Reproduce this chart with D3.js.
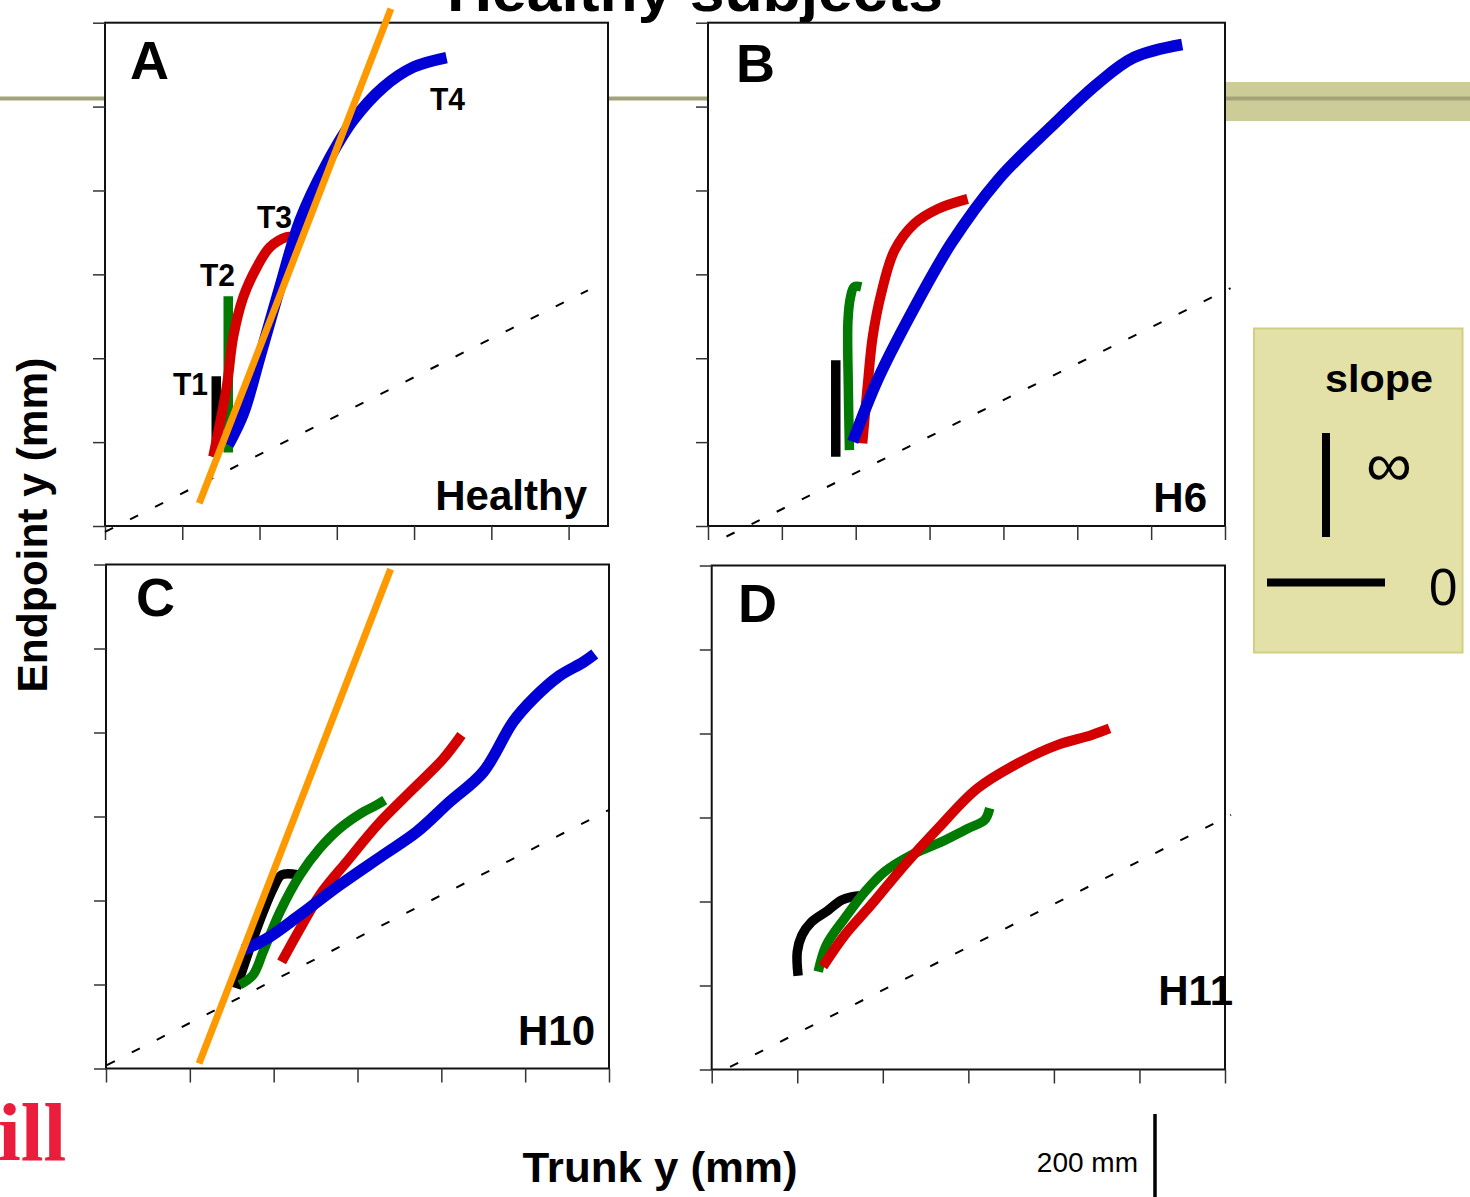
<!DOCTYPE html>
<html>
<head>
<meta charset="utf-8">
<script src="https://cdn.jsdelivr.net/npm/d3@7"></script>
<style>
  body { margin: 0; background: #fff; }
  svg { display: block; }
  text { font-family: "Liberation Sans", Arial, sans-serif; }
</style>
</head>
<body>
<div id="fig"></div>
<script>
// points are [trunk y, endpoint y] in mm
var yTicks = [0, 200, 400, 600, 800, 1000, 1200];
var xTicksA = [0, 200, 400, 600, 800, 1000, 1200];
var xTicksB = [0, 200, 400, 600, 800, 1000, 1200, 1400];

// A - healthy average
var aT1 = [[288,165],[288,357]];
var aT2 = [[319,175],[319,548]];
var aT3 = [[280,165],[315,332],[332,451],[358,546],[393,617],[427,665],[470,689],[483,689]];
var aT4 = [[319,193],[358,268],[401,403],[453,570],[505,729],[574,864],[642,967],[720,1046],[798,1094],[884,1117]];
var aFit = [[244,54],[740,1233]];
var aDiag = [[0,-14],[1250,562]];

// B - H6
var bT1 = [[346,165],[346,395]];
var bT2 = [[383,181],[380,330],[379,490],[386,546],[396,570],[415,570]];
var bT3 = [[418,197],[432,332],[446,451],[469,554],[505,657],[559,721],[622,756],[703,780]];
var bT4 = [[392,201],[459,348],[550,506],[658,673],[784,824],[928,951],[1054,1054],[1153,1117],[1284,1148]];
var bDiag = [[50,-25],[1415,567]];

// C - H10
var cT1 = [[311,191],[343,286],[375,373],[399,429],[419,461],[458,461]];
var cT2 = [[319,199],[351,223],[375,278],[415,373],[463,461],[510,524],[558,572],[614,611],[645,627],[665,639]];
var cT3 = [[419,254],[463,333],[510,413],[574,492],[653,586],[733,666],[804,737],[848,794]];
var cT4 = [[327,282],[383,309],[462,365],[558,437],[661,508],[741,563],[820,635],[900,706],[971,825],[1019,880],[1082,935],[1138,967],[1166,987]];
var cFit = [[222,12],[679,1189]];
var cDiag = [[2,8],[1199,615]];

// D - H11
var dT1 = [[202,223],[200,280],[211,320],[233,351],[272,379],[303,403],[327,411],[350,414]];
var dT2 = [[249,233],[268,296],[311,360],[358,423],[404,471],[467,511],[537,542],[599,574],[638,594],[650,622]];
var dT3 = [[260,245],[311,320],[373,392],[451,487],[529,574],[622,670],[723,733],[809,773],[887,796],[930,812]];
var dDiag = [[43,6],[1214,606]];

var trialStyle = {
    T1: {color: "#000000", width: 9.5},
    T2: {color: "#007a00", width: 9.5},
    T3: {color: "#d40000", width: 10},
    T4: {color: "#0000d6", width: 11.5}
};

var panels = [
    {letter: "A", name: "Healthy", left: 105, right: 608, top: 22.7, bottom: 526, xMax: 1302, xTicks: xTicksA,
     trials: {T1: aT1, T2: aT2, T3: aT3, T4: aT4}, fit: aFit, diag: aDiag,
     lx: 130, ly: 79, nx: 587, ny: 510},
    {letter: "B", name: "H6", left: 708, right: 1225, top: 22.7, bottom: 526, xMax: 1400, xTicks: xTicksB,
     trials: {T1: bT1, T2: bT2, T3: bT3, T4: bT4}, fit: null, diag: bDiag,
     lx: 736, ly: 82, nx: 1207, ny: 512},
    {letter: "C", name: "H10", left: 106, right: 609, top: 564.5, bottom: 1068.5, xMax: 1200, xTicks: xTicksA,
     trials: {T1: cT1, T2: cT2, T3: cT3, T4: cT4}, fit: cFit, diag: cDiag,
     lx: 136, ly: 616, nx: 595, ny: 1045},
    {letter: "D", name: "H11", left: 711.7, right: 1225, top: 565.5, bottom: 1069.5, xMax: 1200, xTicks: xTicksA,
     trials: {T1: dT1, T2: dT2, T3: dT3}, fit: null, diag: dDiag,
     lx: 738, ly: 622, nx: 1233, ny: 1005}
];

var svg = d3.select("#fig").append("svg")
    .attr("width", 1470)
    .attr("height", 1197);

svg.append("rect").attr("width", 1470).attr("height", 1197).attr("fill", "#fff");

// slide decoration behind the panels
svg.append("rect")
    .attr("x", 1223).attr("y", 82).attr("width", 247).attr("height", 39)
    .attr("fill", "#cccc99");
svg.append("line")
    .attr("x1", 0).attr("x2", 1470).attr("y1", 98.5).attr("y2", 98.5)
    .attr("stroke", "#a3a37a").attr("stroke-width", 4);

// title, mostly cut off at the top of the slide
svg.append("text")
    .attr("x", 447).attr("y", 11)
    .attr("textLength", 496).attr("lengthAdjust", "spacingAndGlyphs")
    .style("font-size", "60px").style("font-weight", "bold")
    .text("Healthy subjects");

panels.forEach(function(p) {
    var x = d3.scaleLinear().domain([0, p.xMax]).range([p.left, p.right]);
    var y = d3.scaleLinear().domain([0, 1200]).range([p.bottom, p.top]);
    var g = svg.append("g");

    g.append("rect")
        .attr("x", p.left).attr("y", p.top)
        .attr("width", p.right - p.left).attr("height", p.bottom - p.top)
        .attr("fill", "#fff").attr("stroke", "#111").attr("stroke-width", 2);

    var yAxis = g.append("g")
        .attr("transform", "translate(" + p.left + ",0)")
        .call(d3.axisLeft(y).tickValues(yTicks).tickSize(12).tickSizeOuter(0).tickFormat(""));
    var xAxis = g.append("g")
        .attr("transform", "translate(0," + p.bottom + ")")
        .call(d3.axisBottom(x).tickValues(p.xTicks).tickSize(14).tickSizeOuter(0).tickFormat(""));
    [yAxis, xAxis].forEach(function(a) {
        a.select(".domain").remove();
        a.selectAll("line").attr("stroke", "#333").attr("stroke-width", 1.5);
    });

    var line = d3.line()
        .x(function(d) { return x(d[0]); })
        .y(function(d) { return y(d[1]); })
        .curve(d3.curveCatmullRom.alpha(0.5));

    // reference line
    g.append("path")
        .attr("d", line(p.diag))
        .attr("fill", "none").attr("stroke", "#000")
        .attr("stroke-width", 2).attr("stroke-dasharray", "9,19");

    Object.keys(p.trials).forEach(function(k) {
        g.append("path")
            .attr("d", line(p.trials[k]))
            .attr("fill", "none")
            .attr("stroke", trialStyle[k].color)
            .attr("stroke-width", trialStyle[k].width)
            .attr("stroke-linecap", "butt")
            .attr("stroke-linejoin", "round");
    });

    if (p.fit) {
        g.append("path")
            .attr("d", line(p.fit))
            .attr("fill", "none").attr("stroke", "#ff9900").attr("stroke-width", 7);
    }

    g.append("text")
        .attr("x", p.lx).attr("y", p.ly)
        .style("font-size", "54px").style("font-weight", "bold")
        .text(p.letter);
    g.append("text")
        .attr("x", p.nx).attr("y", p.ny)
        .attr("text-anchor", "end")
        .style("font-size", "42px").style("font-weight", "bold")
        .text(p.name);
});

// trial labels in panel A
var tLabels = [["T1", 173, 395], ["T2", 200, 286], ["T3", 257, 228], ["T4", 430, 110]];
svg.selectAll(".tlab")
    .data(tLabels)
    .enter()
    .append("text")
    .attr("class", "tlab")
    .attr("x", d => d[1]).attr("y", d => d[2])
    .attr("textLength", 35).attr("lengthAdjust", "spacingAndGlyphs")
    .style("font-size", "32px").style("font-weight", "bold")
    .text(d => d[0]);

// axis titles
svg.append("text")
    .attr("transform", "translate(47,525) rotate(-90)")
    .attr("text-anchor", "middle")
    .attr("textLength", 335).attr("lengthAdjust", "spacingAndGlyphs")
    .style("font-size", "42px").style("font-weight", "bold")
    .text("Endpoint y (mm)");
svg.append("text")
    .attr("x", 660).attr("y", 1182)
    .attr("text-anchor", "middle")
    .attr("textLength", 275).attr("lengthAdjust", "spacingAndGlyphs")
    .style("font-size", "42px").style("font-weight", "bold")
    .text("Trunk y (mm)");

// scale bar
svg.append("line")
    .attr("x1", 1155).attr("x2", 1155).attr("y1", 1114).attr("y2", 1197)
    .attr("stroke", "#000").attr("stroke-width", 3.5);
svg.append("text")
    .attr("x", 1138).attr("y", 1172)
    .attr("text-anchor", "end")
    .style("font-size", "28px")
    .text("200 mm");

// slope key
var key = svg.append("g");
key.append("rect")
    .attr("x", 1254).attr("y", 328.5).attr("width", 208.5).attr("height", 324)
    .attr("fill", "#e3e0a8").attr("stroke", "#d0d080").attr("stroke-width", 2);
key.append("text")
    .attr("x", 1325).attr("y", 392)
    .attr("textLength", 108).attr("lengthAdjust", "spacingAndGlyphs")
    .style("font-size", "38px").style("font-weight", "bold")
    .text("slope");
key.append("line")
    .attr("x1", 1326).attr("x2", 1326).attr("y1", 433).attr("y2", 537)
    .attr("stroke", "#000").attr("stroke-width", 8);
key.append("text")
    .attr("x", 1366).attr("y", 486)
    .attr("textLength", 46).attr("lengthAdjust", "spacingAndGlyphs")
    .style("font-size", "62px")
    .text("∞");
key.append("line")
    .attr("x1", 1267).attr("x2", 1385).attr("y1", 582.5).attr("y2", 582.5)
    .attr("stroke", "#000").attr("stroke-width", 8);
key.append("text")
    .attr("x", 1429).attr("y", 605)
    .style("font-size", "51px")
    .text("0");

// bit of the logo at the lower left
svg.append("text")
    .attr("x", -2).attr("y", 1160)
    .style("font-family", "'Liberation Serif', 'DejaVu Serif', serif")
    .style("font-size", "82px").style("font-weight", "bold")
    .attr("fill", "#ea1d3c")
    .text("ill");
</script>
</body>
</html>
